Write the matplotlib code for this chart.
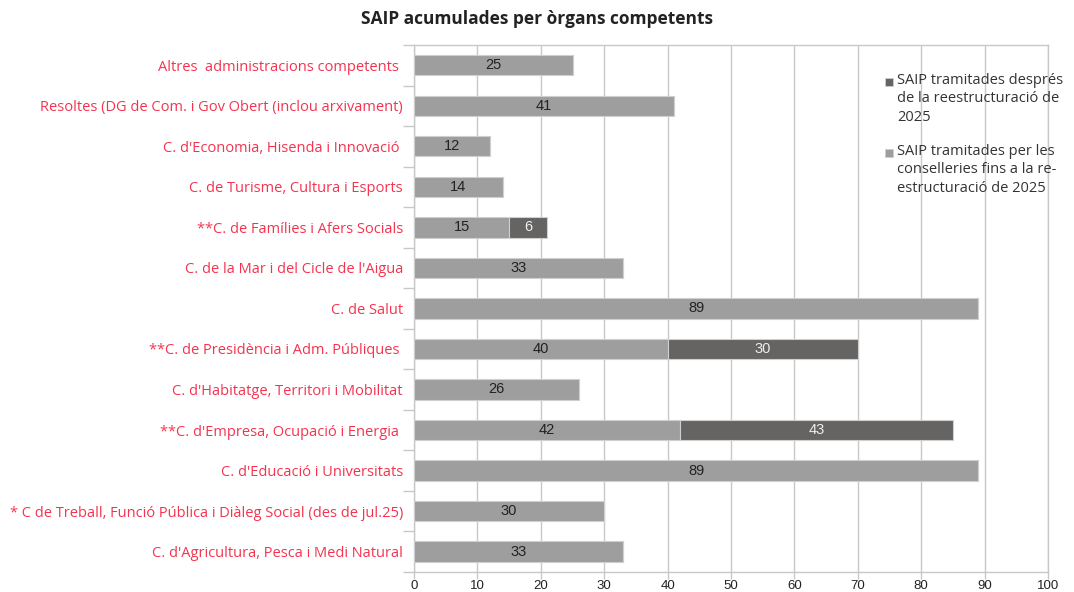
import numpy as np
import matplotlib.pyplot as plt
from matplotlib.patches import Rectangle

# categories from top to bottom
categories = [
    "Altres  administracions competents ",
    "Resoltes (DG de Com. i Gov Obert (inclou arxivament)",
    "C. d'Economia, Hisenda i Innovació ",
    "C. de Turisme, Cultura i Esports",
    "**C. de Famílies i Afers Socials",
    "C. de la Mar i del Cicle de l'Aigua",
    "C. de Salut",
    "**C. de Presidència i Adm. Públiques ",
    "C. d'Habitatge, Territori i Mobilitat",
    "**C. d'Empresa, Ocupació i Energia ",
    "C. d'Educació i Universitats",
    "* C de Treball, Funció Pública i Diàleg Social (des de jul.25)",
    "C. d'Agricultura, Pesca i Medi Natural",
]
fins_2025 = [25, 41, 12, 14, 15, 33, 89, 40, 26, 42, 89, 30, 33]
despres_2025 = [0, 0, 0, 0, 6, 0, 0, 30, 0, 43, 0, 0, 0]

label_despres = "SAIP tramitades després\nde la reestructuració de\n2025"
label_fins = "SAIP tramitades per les\nconselleries fins a la re-\nestructuració de 2025"

light = '#9e9e9e'
dark = '#666462'
red = '#f5334f'
grid_col = '#c8c8c8'

fig = plt.figure(figsize=(10.74, 5.92), dpi=100)
ax = fig.add_axes([0.3855, 0.034, 0.5903, 0.890])

y = np.arange(len(categories))
fins = np.array(fins_2025)
desp = np.array(despres_2025)

ax.barh(y, fins, height=0.5, color=light, edgecolor='#cfcfcf', linewidth=0.8, zorder=3)
ax.barh(y, desp, left=fins, height=0.5, color=dark, edgecolor='#cfcfcf', linewidth=0.8, zorder=3)

for i in range(len(categories)):
    ax.text(fins[i] / 2, y[i], str(fins[i]), ha='center', va='center',
            fontsize=10.5, color='#222222', family='Liberation Sans', zorder=4)
    if desp[i] > 0:
        ax.text(fins[i] + desp[i] / 2, y[i], str(desp[i]), ha='center', va='center',
                fontsize=10.5, color='#eeeeee', family='Liberation Sans', zorder=4)

ax.set_xlim(0, 100)
ax.set_ylim(len(categories) - 0.5, -0.5)
ax.set_xticks(np.arange(0, 101, 10))
ax.set_yticks(y)
ax.set_yticklabels(categories, color=red, fontsize=10.5, family='Open Sans')
ax.set_yticks(np.arange(-0.5, len(categories), 1), minor=True)
ax.tick_params(axis='y', which='major', length=0, pad=8)
ax.tick_params(axis='y', which='minor', length=8, color=grid_col, width=1)
ax.tick_params(axis='x', length=5, color=grid_col, width=1, labelsize=9.5, pad=1,
               labelcolor='#222222')
for lab in ax.get_xticklabels():
    lab.set_family('Liberation Sans')

ax.grid(axis='x', color=grid_col, linewidth=1, zorder=0)
ax.set_axisbelow(True)
for s in ax.spines.values():
    s.set_color(grid_col)
    s.set_linewidth(1)

# legend drawn by hand: square aligned with first line of each entry
leg_items = [(dark, label_despres, 82), (light, label_fins, 153)]
for col, txt, top_px in leg_items:
    yf = 1 - top_px / 592
    fig.patches.append(Rectangle((885 / 1074, yf - 4 / 592), 8 / 1074, 8 / 592,
                                 transform=fig.transFigure, facecolor=col,
                                 edgecolor='#cfcfcf', linewidth=0.6))
    fig.text(897 / 1074, yf + 9 / 592, txt, ha='left', va='top', fontsize=10.5,
             family='Open Sans', color='#333333', linespacing=1.3)

fig.suptitle("SAIP acumulades per òrgans competents", x=0.5, y=1 - 19 / 592, va='center',
             fontsize=12.5, fontweight='bold', family='Open Sans', color='#222222')

fig.savefig('out.png', dpi=100)
